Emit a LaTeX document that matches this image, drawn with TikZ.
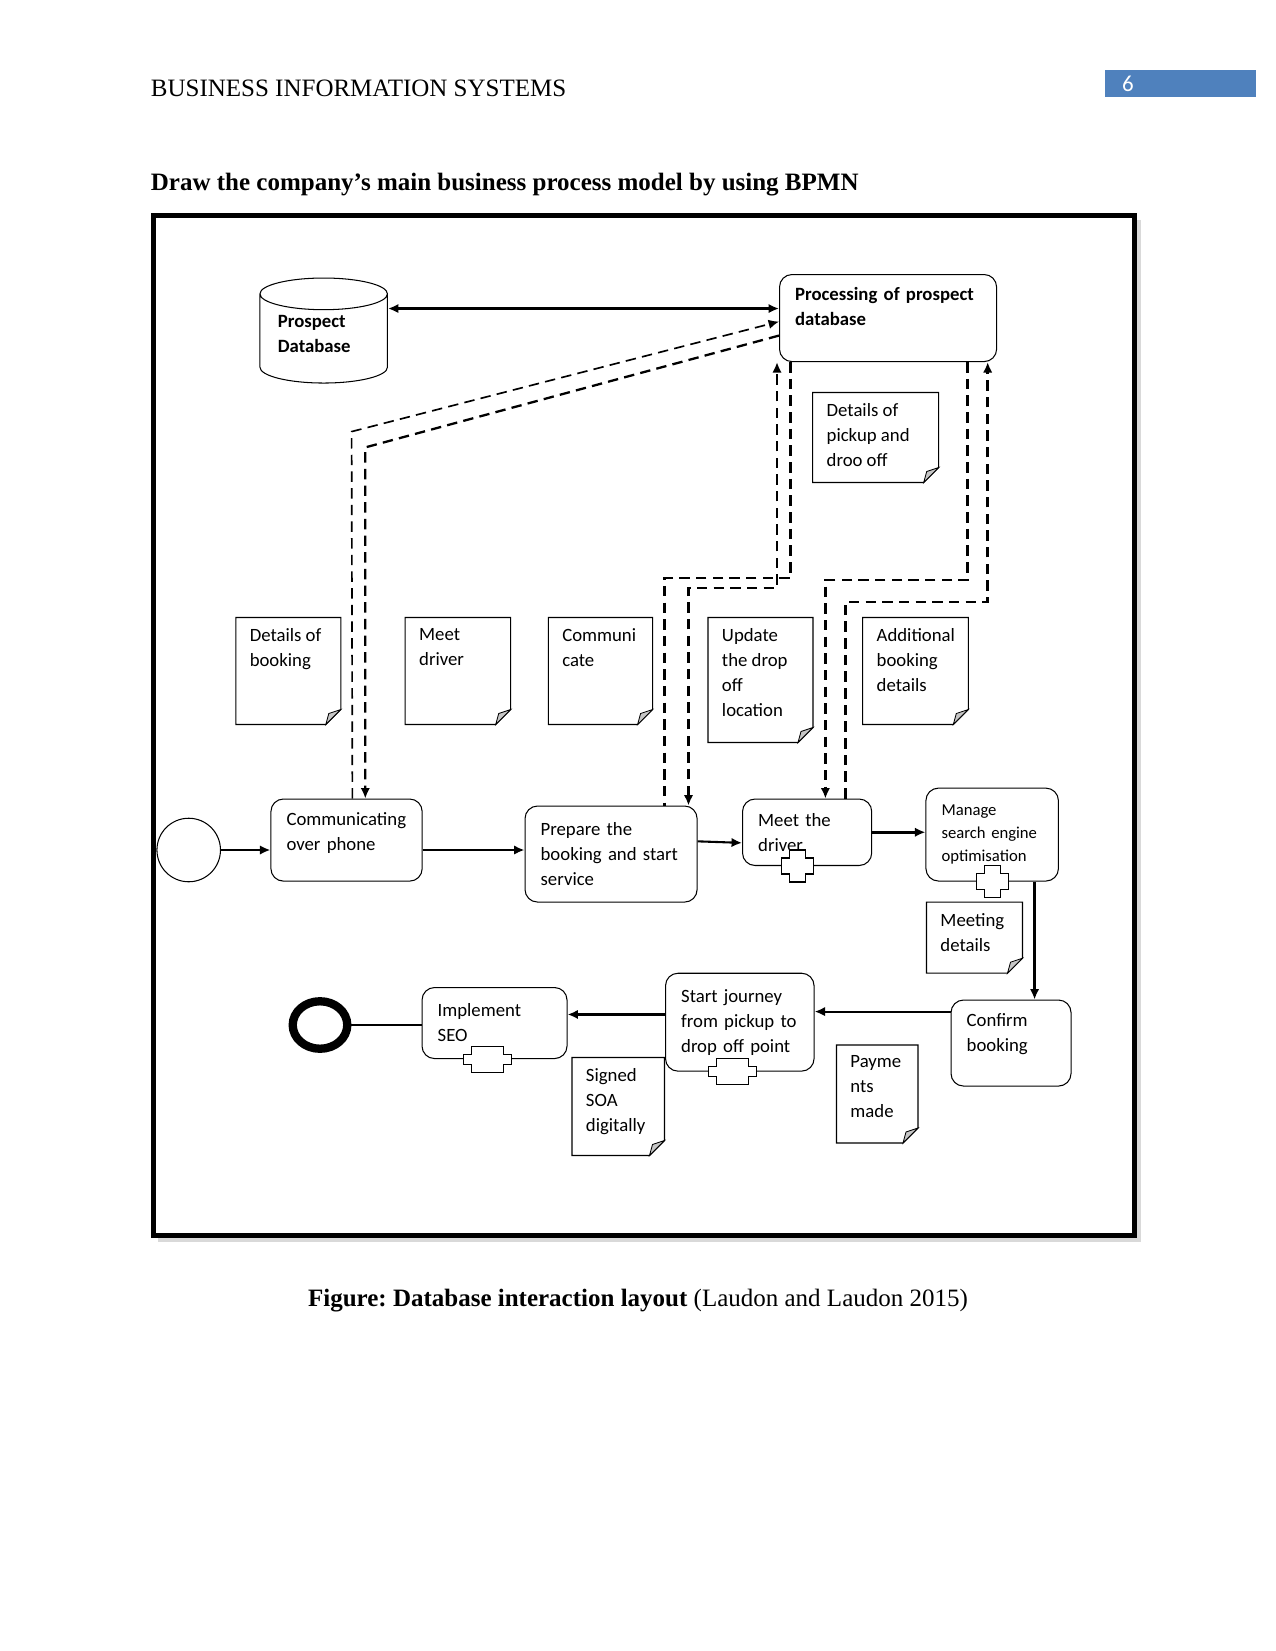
\documentclass[tikz,border=0pt]{standalone}
\usepackage{fontspec}
\setmainfont{Liberation Serif}
\newfontfamily\calibri{Carlito}
\usetikzlibrary{arrows.meta,shapes.geometric}
\definecolor{pageblue}{RGB}{79,129,189}
\frenchspacing

\newcommand{\paperedge}[3]{%
  \draw[line width=0.5pt] (#1.north west) -- ++(#2,0) -- ++(0,#3-15) -- ++(-15,15) -- ++(15-#2,0) -- cycle;
  \filldraw[line width=0.4pt, fill=gray!45] (#1.north west) ++(#2,#3-15) -- ++(-15,15) -- ++(3,-11) -- cycle;
}

\begin{document}
\begin{tikzpicture}[x=0.48pt, y=-0.48pt, >={Latex[length=5pt,width=4.5pt]},
    task/.style={draw, rounded corners=6pt, line width=0.5pt, font=\calibri\fontsize{9}{12}\selectfont, align=left, inner xsep=7.5pt, anchor=north west},
    docnote/.style={font=\calibri\fontsize{9}{12}\selectfont, align=left, inner xsep=6.5pt, inner ysep=5pt, anchor=north west},
    flow/.style={->, line width=1pt},
    heavy/.style={->, line width=1.5pt},
    msg/.style={dash pattern=on 5pt off 3pt, line width=1pt},
    squaremark/.pic={\filldraw[fill=white, line width=0.5pt] (-8,-16) -- (8,-16) -- (8,-8) -- (16,-8) -- (16,8) -- (8,8) -- (8,16) -- (-8,16) -- (-8,8) -- (-16,8) -- (-16,-8) -- (-8,-8) -- cycle;},
    widemark/.pic={\filldraw[fill=white, line width=0.5pt] (-16,-13) -- (16,-13) -- (16,-5) -- (24,-5) -- (24,5) -- (16,5) -- (16,13) -- (-16,13) -- (-16,5) -- (-24,5) -- (-24,-5) -- (-16,-5) -- cycle;}]

    \path[use as bounding box, fill=white] (0,0) rectangle (1275,1651);

    \node (header) [anchor=base west, inner sep=0, font=\fontsize{12}{14}\selectfont] at (150.5,97) {BUSINESS INFORMATION SYSTEMS};
    \node (pageno) [anchor=north west, fill=pageblue, text=white, font=\calibri\fontsize{11}{13}\selectfont, text width=56.5pt, inner xsep=8pt, inner ysep=0pt, minimum height=13.2pt, align=left] at (1105,69.5) {6};
    \node (title) [anchor=base west, inner sep=0, font=\bfseries\fontsize{12}{14}\selectfont] at (150.5,190.5) {Draw the company’s main business process model by using BPMN};

    \draw[line width=2pt, gray!30] (1138.5,220) -- (1138.5,1239.5) -- (158,1239.5);
    \draw[line width=2.5pt] (153.2,215.3) rectangle (1134.4,1235.5);

    \node (caption) [anchor=base, inner sep=0, font=\fontsize{12}{14}\selectfont] at (638,1306.5) {\textbf{Figure: Database interaction layout} (Laudon and Laudon 2015)};

    \node (prospect) [cylinder, shape border rotate=90, draw, line width=0.5pt, aspect=0.3, minimum width=61.2pt, minimum height=50.4pt, inner ysep=0pt, font=\calibri\bfseries\fontsize{9}{12}\selectfont, align=left, text width=44pt, text depth=20pt] at (323.7,342.3) {Prospect\\Database};
    \node (proc) [task, text width=89.2pt, minimum height=41.8pt, text depth=23.5pt, font=\calibri\bfseries\fontsize{9}{12}\selectfont] at (779,274) {Processing of prospect\\database};

    \node (start) [circle, draw, line width=0.5pt, minimum size=30.5pt, inner sep=0] at (188.7,850) {};
    \node (comm) [task, text width=57.6pt, minimum height=39.4pt, text depth=20.5pt] at (270.4,798.5) {Communicating\\over phone};
    \node (prep) [task, text width=67.6pt, minimum height=46.1pt] at (524.5,805.5) {Prepare the\\booking and start\\service};
    \node (meet) [task, text width=47pt, minimum height=31.9pt] at (742,798.5) {Meet the\\driver};
    \node (manage) [task, text width=48.6pt, minimum height=44.6pt, font=\calibri\fontsize{8}{11}\selectfont] at (925.4,787.6) {Manage\\search engine\\optimisation};
    \node (confirm) [task, text width=42.6pt, minimum height=41.3pt, text depth=22.5pt] at (950.5,999.5) {Confirm\\booking};
    \node (sj) [task, text width=56.3pt, minimum height=47pt] at (665,972.7) {Start journey\\from pickup to\\drop off point};
    \node (impl) [task, text width=54.6pt, minimum height=34.1pt] at (421.5,987) {Implement\\SEO};
    \node (finish) [ellipse, draw, line width=4pt, minimum width=26.2pt, minimum height=22.8pt, inner sep=0] at (320,1025) {};

    \pic at ([xshift=-4.8pt]meet.south) {squaremark};
    \pic at (manage.south) {squaremark};
    \pic at ([xshift=-3.6pt]sj.south) {widemark};
    \pic at ([xshift=-3.4pt]impl.south) {widemark};

    \node (dpick) [docnote] at (812.7,392.5) {Details of\\pickup and\\droo off};
    \node (dbook) [docnote] at (235.8,617.5) {Details of\\booking};
    \node (dmeet) [docnote] at (405.2,617.5) {Meet\\driver};
    \node (dcomm) [docnote] at (548.3,617.5) {Communi\\cate};
    \node (dupd) [docnote] at (708,617.5) {Update\\the drop\\off\\location};
    \node (dadd) [docnote] at (862.7,617.5) {Additional\\booking\\details};
    \node (dmeetd) [docnote] at (926.5,902.2) {Meeting\\details};
    \node (dpay) [docnote] at (836.5,1045) {Payme\\nts\\made};
    \node (dsoa) [docnote] at (572,1057.5) {Signed\\SOA\\digitally};
    \paperedge{dpick}{126}{90}
    \paperedge{dbook}{105}{107}
    \paperedge{dmeet}{105.5}{107}
    \paperedge{dcomm}{104.3}{107}
    \paperedge{dupd}{105}{125}
    \paperedge{dadd}{105.6}{107}
    \paperedge{dmeetd}{96}{71}
    \paperedge{dpay}{81.5}{98}
    \paperedge{dsoa}{92.5}{98}

    \coordinate (dbarrow) at ([yshift=16.2pt]prospect.east);
    \draw[<->, line width=1.5pt] (dbarrow) -- (dbarrow -| proc.west);

    \draw[flow] (start.east) -- (start.east -| comm.west);
    \draw[flow] (start.east -| comm.east) -- (start.east -| prep.west);
    \draw[flow] ([yshift=6.1pt]prep.east) -- ([yshift=-5.1pt]meet.west);
    \draw[heavy] (meet.east) -- (meet.east -| manage.west);
    \coordinate (drop) at ([xshift=11.3pt]confirm.north);
    \draw[heavy] (manage.south -| drop) -- (drop);
    \coordinate (back) at ([yshift=15.1pt]confirm.west);
    \draw[flow] (back) -- (back -| sj.east);
    \coordinate (seo) at ([yshift=3.7pt]sj.west);
    \draw[flow, line width=1.2pt] (seo) -- (seo -| impl.east);
    \draw[line width=0.5pt] (finish.east) -- (finish.east -| impl.west);

    \coordinate (a1) at (351.6,431.6);
    \coordinate (b1) at (365.3,447.4);
    \draw[msg, ->, line width=0.8pt] ([xshift=2.8pt]comm.north) -- (a1) -- ([yshift=-1.7pt]proc.west);
    \draw[msg, ->, line width=1.1pt] ([yshift=-8.4pt]proc.west) -- (b1) -- (b1 |- comm.north);

    \coordinate (c1) at (790.6,578);
    \coordinate (c2) at (664.3,578);
    \draw[msg, line width=1.3pt] (proc.south -| c1) -- (c1) -- (c2) -- (c2 |- prep.north);
    \coordinate (d1) at (688.5,588);
    \coordinate (d2) at (777,588);
    \draw[msg, <->] (d1 |- prep.north) -- (d1) -- (d2) -- (d2 |- proc.south);
    \coordinate (e1) at (967.5,580);
    \coordinate (e2) at (825.4,580);
    \draw[msg, ->, line width=1.1pt] (proc.south -| e1) -- (e1) -- (e2) -- (e2 |- meet.north);
    \coordinate (f1) at (845.5,602);
    \coordinate (f2) at (987.7,602);
    \draw[msg, ->, line width=1.3pt] (f1 |- meet.north) -- (f1) -- (f2) -- (f2 |- proc.south);
\end{tikzpicture}
\end{document}
